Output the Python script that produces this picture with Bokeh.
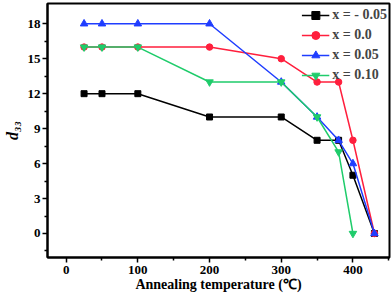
from bokeh.plotting import figure
from bokeh.models import FixedTicker, Range1d, Legend, LegendItem
from bokeh.embed import file_html
from bokeh.resources import INLINE

temps_a = [25, 50, 100, 200, 300, 350, 380, 400, 430]
temps_b = [25, 50, 100, 200, 300, 350, 380, 400]
d_m005 = [12, 12, 12, 10, 10, 8, 8, 5, 0]
d_000 = [16, 16, 16, 16, 15, 13, 13, 8, 0]
d_005 = [18, 18, 18, 18, 13, 10, 8, 6, 0]
d_010 = [16, 16, 16, 13, 13, 10, 7, 0]
labels = ["x = - 0.05", "x = 0.0", "x = 0.05", "x = 0.10"]
x_ticks = [0, 100, 200, 300, 400]
y_ticks = [0, 3, 6, 9, 12, 15, 18]

FONT = "Liberation Serif"

p = figure(width=391, height=299, output_backend="svg", toolbar_location=None,
           x_range=Range1d(-26, 451), y_range=Range1d(-2.06, 19.74),
           min_border_left=43, min_border_right=2, min_border_top=3, min_border_bottom=42)

p.xgrid.visible = False
p.ygrid.visible = False
p.outline_line_color = "black"
p.outline_line_width = 2

series = [
    (temps_a, d_m005, "black", "square", 6),
    (temps_a, d_000, "#ff1f3d", "circle", 6.5),
    (temps_a, d_005, "#1f3dff", "triangle", 7.5),
    (temps_b, d_010, "#1fcc6b", "inverted_triangle", 7.5),
]
items = []
for (xs, ys, col, mk, sz), lab in zip(series, labels):
    r1 = p.line(xs, ys, line_color=col, line_width=1.5)
    r2 = p.scatter(xs, ys, marker=mk, size=sz, fill_color=col, line_color=col)
    items.append(LegendItem(label=lab, renderers=[r1, r2]))

leg = Legend(items=items, location="top_right")
leg.label_text_font = FONT
leg.label_text_font_style = "bold"
leg.label_text_font_size = "14px"
leg.border_line_alpha = 0
leg.background_fill_alpha = 0
leg.spacing = -5
leg.padding = 0
leg.margin = 2
leg.glyph_width = 28
leg.label_standoff = 3
p.add_layout(leg)

p.xaxis.ticker = FixedTicker(ticks=x_ticks, minor_ticks=[50, 150, 250, 350, 450])
p.yaxis.ticker = FixedTicker(ticks=y_ticks, minor_ticks=[-1.5, 1.5, 4.5, 7.5, 10.5, 13.5, 16.5])

for ax in (p.xaxis, p.yaxis):
    ax.axis_line_width = 2
    ax.major_tick_line_width = 1.5
    ax.minor_tick_line_width = 1.5
    ax.major_tick_out = 5
    ax.major_tick_in = 0
    ax.minor_tick_out = 3
    ax.minor_tick_in = 0
    ax.major_label_text_font = FONT
    ax.major_label_text_font_style = "bold"
    ax.major_label_text_font_size = "13px"
    ax.major_label_text_color = "black"
    ax.axis_label_text_font = FONT
    ax.axis_label_text_color = "black"

p.xaxis.axis_label = "Annealing temperature (\u2103)"
p.xaxis.axis_label_text_font_style = "bold"
p.xaxis.axis_label_text_font_size = "14px"
p.xaxis.axis_label_standoff = 0
p.xaxis.major_label_standoff = 3
p.yaxis.axis_label = "d\u2083\u2083"
p.yaxis.axis_label_text_font_style = "bold italic"
p.yaxis.axis_label_text_font_size = "16px"
p.yaxis.axis_label_standoff = 4
p.yaxis.major_label_standoff = 2

open("out.html", "w").write(file_html(p, INLINE))
